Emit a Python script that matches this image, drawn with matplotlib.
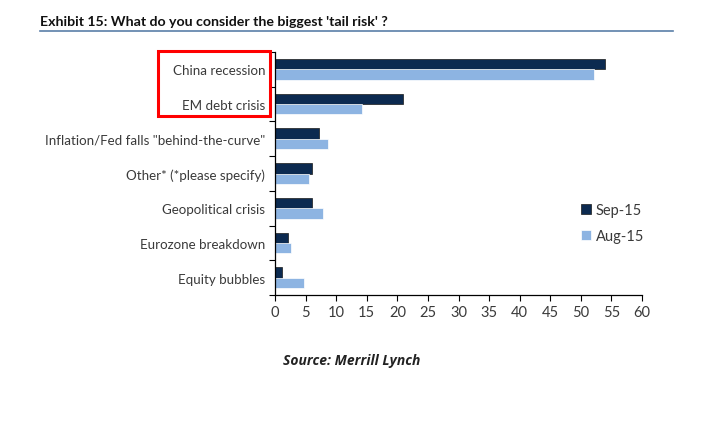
import numpy as np
import matplotlib.pyplot as plt
from matplotlib.patches import Rectangle
from matplotlib.lines import Line2D

categories = ['China recession', 'EM debt crisis', 'Inflation/Fed falls "behind-the-curve"',
              'Other* (*please specify)', 'Geopolitical crisis', 'Eurozone breakdown',
              'Equity bubbles']
sep15 = [54.0, 21.0, 7.2, 6.1, 6.1, 2.2, 1.2]
aug15 = [52.2, 14.2, 8.6, 5.5, 7.9, 2.6, 4.8]
xticks = list(range(0, 61, 5))

plt.rcParams['font.family'] = ['Lato', 'DejaVu Sans']

dark = '#0c2a50'
light = '#8db4e2'
grey = '#3a3a3a'

fig = plt.figure(figsize=(7.21, 4.39), dpi=100)
ax = fig.add_axes([275/721, 1-296/439, 367/721, 243/439])

y = np.arange(len(categories))
h = 0.3
ax.barh(y - h/2, sep15, height=h, color=dark, edgecolor='#1a1a1a', linewidth=0.5, label='Sep-15')
ax.barh(y + h/2, aug15, height=h, color=light, edgecolor='white', linewidth=0.5, label='Aug-15')

ax.set_ylim(len(categories) - 0.5, -0.5)
ax.set_xlim(0, 60)
ax.set_xticks(xticks)
ax.set_yticks(y)
ax.set_yticklabels(categories)
ax.set_yticks(np.arange(-0.5, len(categories), 1), minor=True)
ax.tick_params(axis='y', which='major', length=0, pad=7, labelsize=9.6, labelcolor=grey)
ax.tick_params(axis='y', which='minor', length=4, width=0.8, direction='out')
ax.tick_params(axis='x', length=4, width=0.8, direction='out', labelsize=10.5, labelcolor=grey, pad=3)
for s in ['top', 'right']:
    ax.spines[s].set_visible(False)
for s in ['left', 'bottom']:
    ax.spines[s].set_linewidth(0.9)

ax.legend(loc='center left', bbox_to_anchor=(568/721, 1-224/439), bbox_transform=fig.transFigure,
          frameon=False, fontsize=10.5, handlelength=0.7, handleheight=0.7, handletextpad=0.3,
          labelspacing=0.8, labelcolor=grey)

fig.text(40/721, 1-22/439, "Exhibit 15: What do you consider the biggest 'tail risk' ?",
         fontsize=10.2, fontweight='bold', color='#111111', va='center', ha='left')
fig.add_artist(Line2D([40/721, 673/721], [1-32/439, 1-32/439], color='#5a7fa8', linewidth=1.2))

fig.text(352/721, 1-361/439, 'Source: Merrill Lynch', fontsize=10, fontweight='bold',
         fontstyle='italic', family=['Open Sans', 'DejaVu Sans'], color='#222222',
         ha='center', va='center')

fig.add_artist(Rectangle((158/721, 1-117/439), 112/721, 65/439, transform=fig.transFigure,
                         fill=False, edgecolor='#ff0000', linewidth=2.2))

fig.savefig('out.png', dpi=100)
